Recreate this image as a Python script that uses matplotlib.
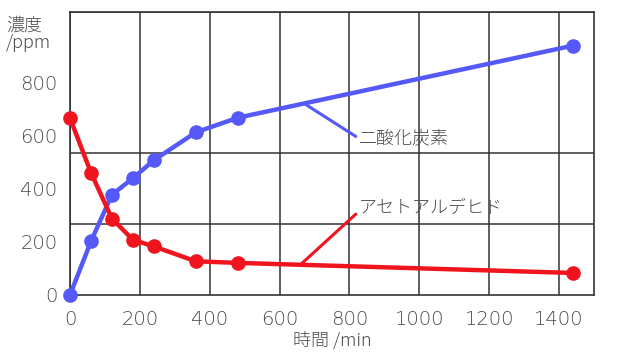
import matplotlib
matplotlib.use("Agg")
import matplotlib.pyplot as plt
from matplotlib.ticker import MultipleLocator, FixedLocator

plt.rcParams["font.family"] = ["Noto Sans CJK JP", "DejaVu Sans"]

# time (min) and concentrations (ppm)
time_min = [0, 60, 120, 180, 240, 360, 480, 1440]
co2_ppm = [0, 202, 378, 440, 508, 613, 668, 940]
acetaldehyde_ppm = [667, 461, 288, 208, 183, 127, 121, 83]

co2_label = "二酸化炭素"
acet_label = "アセトアルデヒド"
x_label = "時間 /min"
y_label = "濃度\n/ppm"
x_ticks = [0, 200, 400, 600, 800, 1000, 1200, 1400]
y_ticks = [0, 200, 400, 600, 800]

BLUE = "#5459f7"
RED = "#f0141e"
GRID = "#333333"
TEXT = "#4a4a4a"

fig = plt.figure(figsize=(6.2, 3.6), dpi=100)
ax = fig.add_axes([0.1129, 0.1806, 0.8452, 0.7861])

ax.set_xlim(0, 1500)
ax.set_ylim(0, 800 * 4 / 3)

# grid: vertical every 200 min, horizontal every quarter of the axis
ax.xaxis.set_major_locator(FixedLocator(x_ticks))
ax.yaxis.set_major_locator(FixedLocator(y_ticks))
ax.yaxis.set_minor_locator(MultipleLocator(800 / 3))
ax.grid(False)
ax.grid(which="minor", axis="y", color=GRID, lw=1.1)
ax.grid(which="major", axis="x", color=GRID, lw=1.1)
ax.tick_params(which="both", length=0, colors=TEXT)
ax.tick_params(axis="x", pad=11)
ax.tick_params(axis="y", pad=9)
for lab in ax.get_xticklabels() + ax.get_yticklabels():
    lab.set_family(["DejaVu Sans"])
    lab.set_weight("light")
    lab.set_fontsize(14)
for s in ax.spines.values():
    s.set_color(GRID)
    s.set_linewidth(1.2)

ax.plot(time_min, co2_ppm, color=BLUE, lw=3.2, marker="o", ms=9.5,
        clip_on=False, zorder=3)
ax.plot(time_min, acetaldehyde_ppm, color=RED, lw=3.2, marker="o", ms=9.5,
        clip_on=False, zorder=3)

# leader-line labels
ax.annotate(co2_label, xy=(676, 717), xytext=(826, 591),
            fontsize=13, color=TEXT, va="center", ha="left", weight="light",
            arrowprops=dict(arrowstyle="-", color=BLUE, lw=2.2,
                            shrinkA=0, shrinkB=0, relpos=(0, 0.5)))
ax.annotate(acet_label, xy=(662, 117), xytext=(826, 328),
            fontsize=13, color=TEXT, va="center", ha="left", weight="light",
            arrowprops=dict(arrowstyle="-", color=RED, lw=2.2,
                            shrinkA=0, shrinkB=0, relpos=(0, 0.3)))

fig.text(0.01, 0.955, y_label, fontsize=13, color=TEXT, va="top",
         ha="left", linespacing=1.0, weight="light")
ax.set_xlabel(x_label, fontsize=13, color=TEXT, labelpad=1, weight="light")

fig.savefig("out.png", dpi=100)
